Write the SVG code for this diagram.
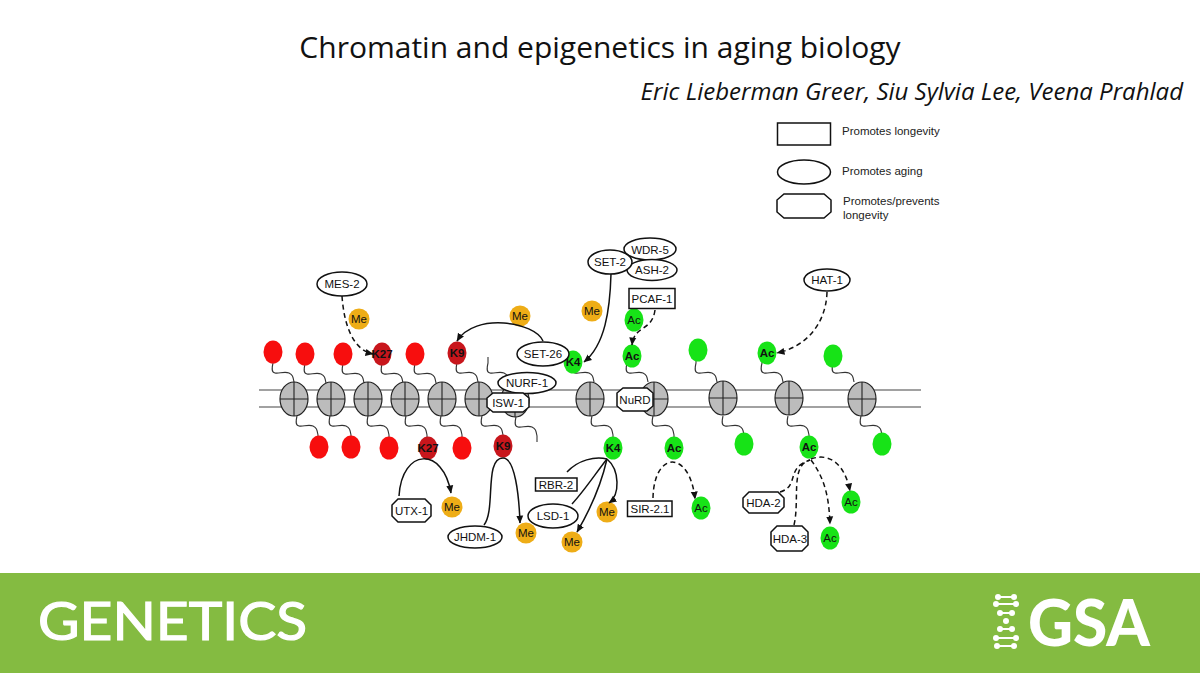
<svg xmlns="http://www.w3.org/2000/svg" width="1200" height="675" viewBox="0 0 1200 675">
<style>
text{font-family:"Liberation Sans",Arial,sans-serif;fill:#111}
.t{text-anchor:middle;font-size:11.500px}
.b{text-anchor:middle;font-size:11.500px;font-weight:bold}
.m{text-anchor:middle;font-size:11.500px}
.leg{font-size:11.500px;fill:#222}
.n{fill:#fff;stroke:#111;stroke-width:1.500}
.r{fill:#f70e0e}.d{fill:#c8161c}.g{fill:#17e317}.o{fill:#eead17}
.w{fill:none;stroke:#333;stroke-width:1.100}
.nuc{fill:#bcbcbc;stroke:#222;stroke-width:1.200}
.x{stroke:#222;stroke-width:1.100}
.a{fill:none;stroke:#111;stroke-width:1.500;marker-end:url(#ah)}
.da{stroke-dasharray:5 3.500}
.p{fill:none;stroke:#111;stroke-width:1.500}
.dna{stroke:#fff;stroke-width:2;fill:#fff}
</style>
<defs>
<marker id="ah" markerUnits="userSpaceOnUse" markerWidth="9" markerHeight="8" refX="7.500" refY="4" orient="auto"><path d="M0,0.500L8,4L0,7.500z" fill="#111"/></marker>
<path id="tt" class="w" d="M0,-6V0c-1,4 -2,9 2,10c4,1 9,-2 14,0c4,2 4,4 5,9"/>
<path id="tb" class="w" d="M0,0c-1,4 -2,9 2,10c4,1 9,-2 14,0c4,2 4,4 5,9v6"/>
<g id="nu"><ellipse class="nuc" rx="14" ry="17"/><path class="x" d="M-14,0H14M0,-17V17"/></g>
</defs>
<rect width="1200" height="675" fill="#fff"/>
<text x="600" y="58" text-anchor="middle" style="font-family:'Open Sans',sans-serif;font-size:30px">Chromatin and epigenetics in aging biology</text>
<text x="1183" y="100" text-anchor="end" style="font-family:'Open Sans',sans-serif;font-size:24px;font-style:italic">Eric Lieberman Greer, Siu Sylvia Lee, Veena Prahlad</text>

<g id="legend">
<rect class="n" x="777.500" y="123" width="53" height="22"/>
<ellipse class="n" cx="804" cy="172" rx="26.500" ry="12"/>
<polygon class="n" points="784,194 824,194 831,200 831,212 824,218 784,218 777,212 777,200"/>
<text class="leg" x="842" y="135">Promotes longevity</text>
<text class="leg" x="842" y="175">Promotes aging</text>
<text class="leg" x="843" y="205">Promotes/prevents</text>
<text class="leg" x="843" y="219">longevity</text>
</g>

<g id="dna-strand">
<path d="M259,390H921M259,407H921" stroke="#444" stroke-width="1.200" fill="none"/>
<use href="#tt" x="273" y="363"/><use href="#tt" x="305" y="364"/><use href="#tt" x="343" y="364"/><use href="#tt" x="382" y="364"/><use href="#tt" x="415" y="364"/><use href="#tt" x="457" y="363"/><use href="#tt" x="488" y="363"/><use href="#tt" x="573" y="363"/><use href="#tt" x="627" y="363"/><use href="#tt" x="696" y="363"/><use href="#tt" x="762" y="363"/><use href="#tt" x="833" y="363"/>
<use href="#tb" x="297" y="416"/><use href="#tb" x="330" y="416"/><use href="#tb" x="368" y="416"/><use href="#tb" x="406" y="416"/><use href="#tb" x="441" y="416"/><use href="#tb" x="482" y="416"/><use href="#tb" x="516" y="417"/><use href="#tb" x="592" y="416"/><use href="#tb" x="653" y="416"/><use href="#tb" x="723" y="416"/><use href="#tb" x="788" y="416"/><use href="#tb" x="861" y="416"/>
<use href="#nu" x="294" y="399"/><use href="#nu" x="331" y="399"/><use href="#nu" x="368" y="399"/><use href="#nu" x="405" y="399"/><use href="#nu" x="442" y="399"/><use href="#nu" x="479" y="399"/><use href="#nu" x="515" y="400"/><use href="#nu" x="590" y="399"/><use href="#nu" x="654" y="399"/><use href="#nu" x="723" y="398"/><use href="#nu" x="789" y="398"/><use href="#nu" x="862" y="399"/>
</g>

<g id="beads">
<ellipse class="r" cx="273" cy="352" rx="9.500" ry="11.500"/><ellipse class="r" cx="305" cy="354" rx="9.500" ry="11.500"/><ellipse class="r" cx="343" cy="354" rx="9.500" ry="11.500"/>
<ellipse class="d" cx="382" cy="354" rx="9.500" ry="11.500"/><text class="b" x="382" y="358">K27</text>
<ellipse class="r" cx="415" cy="354" rx="9.500" ry="11.500"/>
<ellipse class="d" cx="457" cy="353" rx="9.500" ry="11.500"/><text class="b" x="457" y="357">K9</text>
<ellipse class="g" cx="573" cy="362" rx="9.500" ry="11.500"/><text class="b" x="573" y="366">K4</text>
<ellipse class="g" cx="632" cy="356" rx="9.500" ry="11.500"/><text class="b" x="632" y="360">Ac</text>
<ellipse class="g" cx="634" cy="320" rx="9.500" ry="11.500"/><text class="m" x="634" y="324">Ac</text>
<ellipse class="g" cx="698" cy="350" rx="9.500" ry="11.500"/>
<ellipse class="g" cx="767" cy="353" rx="9.500" ry="11.500"/><text class="b" x="767" y="357">Ac</text>
<ellipse class="g" cx="833" cy="356" rx="9.500" ry="11.500"/>
<ellipse class="r" cx="319" cy="447" rx="9.500" ry="11.500"/><ellipse class="r" cx="351" cy="447" rx="9.500" ry="11.500"/><ellipse class="r" cx="389" cy="448" rx="9.500" ry="11.500"/>
<ellipse class="d" cx="428" cy="448" rx="9.500" ry="11.500"/><text class="b" x="428" y="452">K27</text>
<ellipse class="r" cx="462" cy="448" rx="9.500" ry="11.500"/>
<ellipse class="d" cx="503" cy="446" rx="9.500" ry="11.500"/><text class="b" x="503" y="450">K9</text>
<ellipse class="g" cx="613" cy="448" rx="9.500" ry="11.500"/><text class="b" x="613" y="452">K4</text>
<ellipse class="g" cx="674" cy="448" rx="9.500" ry="11.500"/><text class="b" x="674" y="452">Ac</text>
<ellipse class="g" cx="744" cy="444" rx="9.500" ry="11.500"/>
<ellipse class="g" cx="809" cy="447" rx="9.500" ry="11.500"/><text class="b" x="809" y="451">Ac</text>
<ellipse class="g" cx="882" cy="444" rx="9.500" ry="11.500"/>
<ellipse class="g" cx="701" cy="508" rx="9.500" ry="11.500"/><text class="m" x="701" y="512">Ac</text>
<ellipse class="g" cx="851" cy="502" rx="9.500" ry="11.500"/><text class="m" x="851" y="506">Ac</text>
<ellipse class="g" cx="830" cy="538" rx="9.500" ry="11.500"/><text class="m" x="830" y="542">Ac</text>
<circle class="o" cx="359" cy="319" r="10.500"/><text class="m" x="359" y="323">Me</text>
<circle class="o" cx="520" cy="316" r="10.500"/><text class="m" x="520" y="320">Me</text>
<circle class="o" cx="592" cy="311" r="10.500"/><text class="m" x="592" y="315">Me</text>
<circle class="o" cx="452" cy="507" r="10.500"/><text class="m" x="452" y="511">Me</text>
<circle class="o" cx="526" cy="533" r="10.500"/><text class="m" x="526" y="537">Me</text>
<circle class="o" cx="607" cy="512" r="10.500"/><text class="m" x="607" y="516">Me</text>
<circle class="o" cx="572" cy="542" r="10.500"/><text class="m" x="572" y="546">Me</text>
</g>

<g id="connectors">
<path class="a da" d="M342,296C344,325 353,350 373,354"/>
<path class="a" d="M543,341C535,322 475,312 457,341"/>
<path class="a" d="M611,274C610,310 605,345 584,362"/>
<path class="a da" d="M655,310C652,332 634,325 632,345"/>
<path class="a da" d="M827,292C826,325 805,347 777,353"/>
<path class="a" d="M399,496C402,448 443,446 451,493"/>
<path class="p" d="M484,525C496,510 484,458 503,458"/>
<path class="a" d="M503,458C515,458 519,495 520,523"/>
<path class="p" d="M567,472C578,460 595,456 607,459"/>
<path class="a" d="M607,459C620,470 620,495 609,503"/>
<path class="p" d="M572,504C585,490 598,470 607,459"/>
<path class="a" d="M607,459C601,485 590,510 577,532"/>
<path class="a da" d="M653,498C654,450 690,450 695,499"/>
<path class="p da" d="M780,492C800,486 785,468 810,460"/>
<path class="p da" d="M794,525C800,500 790,465 810,460"/>
<path class="a da" d="M811,460C826,480 829,500 830,524"/>
<path class="a da" d="M811,459C830,452 845,465 850,491"/>
</g>

<g id="mes-2"><ellipse class="n" cx="342" cy="284" rx="25" ry="12"/><text class="t" x="342" y="288">MES-2</text></g>
<g id="set-26"><ellipse class="n" cx="543" cy="354" rx="26" ry="12"/><text class="t" x="543" y="358">SET-26</text></g>
<g id="nurf-1"><ellipse class="n" cx="527" cy="383" rx="29" ry="10.500"/><text class="t" x="527" y="387">NURF-1</text></g>
<g id="isw-1"><polygon class="n" points="493,393 523,393 529,398 529,407 523,412 493,412 487,407 487,398"/><text class="t" x="508" y="406.500">ISW-1</text></g>
<g id="wdr-5"><ellipse class="n" cx="650" cy="249" rx="26" ry="11"/><text class="t" x="650" y="253.500">WDR-5</text></g>
<g id="ash-2"><ellipse class="n" cx="652" cy="270" rx="25" ry="10.500"/><text class="t" x="652" y="274">ASH-2</text></g>
<g id="set-2"><ellipse class="n" cx="610" cy="262" rx="22" ry="12"/><text class="t" x="610" y="266">SET-2</text></g>
<g id="pcaf-1"><rect class="n" x="629" y="288.500" width="46" height="20"/><text class="t" x="652" y="303">PCAF-1</text></g>
<g id="hat-1"><ellipse class="n" cx="827" cy="280" rx="23" ry="11"/><text class="t" x="827" y="284">HAT-1</text></g>
<g id="nurd"><polygon class="n" points="623,388 647,388 653,393 653,406 647,411 623,411 617,406 617,393"/><text class="t" x="635" y="403.500">NuRD</text></g>
<g id="utx-1"><polygon class="n" points="398,499 425,499 431,505 431,516 425,522 398,522 392,516 392,505"/><text class="t" x="411.500" y="515">UTX-1</text></g>
<g id="jhdm-1"><ellipse class="n" cx="475" cy="537" rx="27" ry="11"/><text class="t" x="475" y="541">JHDM-1</text></g>
<g id="rbr-2"><rect class="n" x="535.500" y="478" width="41.500" height="13"/><text class="t" x="556" y="488.500">RBR-2</text></g>
<g id="lsd-1"><ellipse class="n" cx="553" cy="516" rx="25" ry="12"/><text class="t" x="553" y="520">LSD-1</text></g>
<g id="sir-2-1"><rect class="n" x="627.500" y="501" width="44.500" height="15.500"/><text class="t" x="650" y="513">SIR-2.1</text></g>
<g id="hda-2"><polygon class="n" points="749,492 778,492 784,498 784,507 778,513 749,513 743,507 743,498"/><text class="t" x="763.500" y="507">HDA-2</text></g>
<g id="hda-3"><polygon class="n" points="777,526 802,526 808,532 808,545 802,551 777,551 771,545 771,532"/><text class="t" x="790" y="543">HDA-3</text></g>

<g id="footer">
<rect x="0" y="573" width="1200" height="100" fill="#84bb41"/>
<text x="38" y="640" textLength="269" lengthAdjust="spacingAndGlyphs" stroke="#fff" stroke-width="1.200" style="font-family:Lato,sans-serif;font-size:53px;fill:#fff">GENETICS</text>
<text x="1028" y="646" textLength="122" lengthAdjust="spacingAndGlyphs" style="font-family:Lato,sans-serif;font-size:65px;font-weight:900;fill:#fff">GSA</text>
<g class="dna">
<path d="M998,597H1014M996,604H1016M1000,613H1012M1000,629H1012M996,638H1016M997,646H1014"/>
<g stroke="none"><circle cx="998" cy="597" r="3"/><circle cx="1014" cy="597" r="3"/><circle cx="996" cy="604" r="3"/><circle cx="1016" cy="604" r="3"/><circle cx="1000" cy="613" r="3"/><circle cx="1012" cy="613" r="3"/><circle cx="1006" cy="621" r="3"/><circle cx="1000" cy="629" r="3"/><circle cx="1012" cy="629" r="3"/><circle cx="996" cy="638" r="3"/><circle cx="1016" cy="638" r="3"/><circle cx="997" cy="646" r="3"/><circle cx="1014" cy="646" r="3"/></g>
</g>
</g>
</svg>
